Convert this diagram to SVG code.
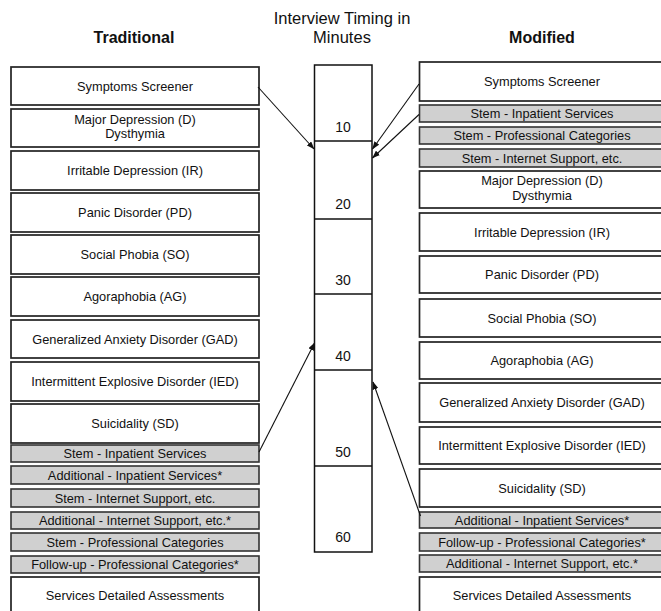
<svg xmlns="http://www.w3.org/2000/svg" width="661" height="611" viewBox="0 0 661 611">
<defs>
<style>
.b{fill:#fff;stroke:#222;stroke-width:1.7}
.g{fill:#d0d0d0;stroke:#333;stroke-width:1.6}
.tl{fill:#fff;stroke:#111;stroke-width:1.5}
.dv{stroke:#111;stroke-width:1.5}
text{font-family:"Liberation Sans",Arial,sans-serif;fill:#111}
.t{font-size:12.8px;text-anchor:middle}
.n{font-size:14px;text-anchor:middle}
.h{font-size:16px;font-weight:bold;text-anchor:middle}
.hm{font-size:16.5px;text-anchor:middle}
.c{stroke:#111;stroke-width:1.1;fill:none;marker-end:url(#ah)}
</style>
<marker id="ah" markerUnits="userSpaceOnUse" markerWidth="8" markerHeight="6" refX="7.5" refY="3" orient="auto">
<path d="M0,0 L8,3 L0,6 Z" fill="#111"/>
</marker>
</defs>
<g id="titles">
<text class="h" x="134" y="43">Traditional</text>
<text class="hm" x="342" y="24">Interview Timing in</text>
<text class="hm" x="342" y="43">Minutes</text>
<text class="h" x="542" y="43">Modified</text>
</g>
<g id="timeline">
<rect class="tl" x="314.5" y="65" width="57.5" height="487"/>
<line class="dv" x1="314.5" y1="141" x2="372" y2="141"/>
<line class="dv" x1="314.5" y1="219" x2="372" y2="219"/>
<line class="dv" x1="314.5" y1="294" x2="372" y2="294"/>
<line class="dv" x1="314.5" y1="370" x2="372" y2="370"/>
<line class="dv" x1="314.5" y1="466" x2="372" y2="466"/>
<text class="n" x="343" y="131.5">10</text>
<text class="n" x="343" y="209">20</text>
<text class="n" x="343" y="284.5">30</text>
<text class="n" x="343" y="360.5">40</text>
<text class="n" x="343" y="456.5">50</text>
<text class="n" x="343" y="542">60</text>
</g>
<g id="L1"><rect class="b" x="11" y="67" width="248" height="38"/><text class="t" x="135" y="90.5">Symptoms Screener</text></g>
<g id="L2"><rect class="b" x="11" y="109" width="248" height="38"/><text class="t" x="135" y="123.5">Major Depression (D)</text><text class="t" x="135" y="138">Dysthymia</text></g>
<g id="L3"><rect class="b" x="11" y="151" width="248" height="39"/><text class="t" x="135" y="175">Irritable Depression (IR)</text></g>
<g id="L4"><rect class="b" x="11" y="193" width="248" height="39"/><text class="t" x="135" y="217">Panic Disorder (PD)</text></g>
<g id="L5"><rect class="b" x="11" y="235" width="248" height="39"/><text class="t" x="135" y="259">Social Phobia (SO)</text></g>
<g id="L6"><rect class="b" x="11" y="277" width="248" height="39"/><text class="t" x="135" y="301">Agoraphobia (AG)</text></g>
<g id="L7"><rect class="b" x="11" y="320" width="248" height="38"/><text class="t" x="135" y="343.5">Generalized Anxiety Disorder (GAD)</text></g>
<g id="L8"><rect class="b" x="11" y="362" width="248" height="39"/><text class="t" x="135" y="386">Intermittent Explosive Disorder (IED)</text></g>
<g id="L9"><rect class="b" x="11" y="404" width="248" height="39"/><text class="t" x="135" y="428">Suicidality (SD)</text></g>
<g id="L10"><rect class="g" x="11" y="445" width="248" height="17"/><text class="t" x="135" y="458">Stem - Inpatient Services</text></g>
<g id="L11"><rect class="g" x="11" y="466" width="248" height="18"/><text class="t" x="135" y="479.5">Additional - Inpatient Services*</text></g>
<g id="L12"><rect class="g" x="11" y="489" width="248" height="18"/><text class="t" x="135" y="502.5">Stem - Internet Support, etc.</text></g>
<g id="L13"><rect class="g" x="11" y="512" width="248" height="17"/><text class="t" x="135" y="525">Additional - Internet Support, etc.*</text></g>
<g id="L14"><rect class="g" x="11" y="533" width="248" height="18"/><text class="t" x="135" y="546.5">Stem - Professional Categories</text></g>
<g id="L15"><rect class="g" x="11" y="556" width="248" height="17"/><text class="t" x="135" y="569">Follow-up - Professional Categories*</text></g>
<g id="L16"><rect class="b" x="11" y="577" width="248" height="40"/><text class="t" x="135" y="600">Services Detailed Assessments</text></g>
<g id="R1"><rect class="b" x="419.5" y="62" width="246" height="39"/><text class="t" x="542" y="86">Symptoms Screener</text></g>
<g id="R2"><rect class="g" x="419.5" y="105" width="246" height="17"/><text class="t" x="542" y="118">Stem - Inpatient Services</text></g>
<g id="R3"><rect class="g" x="419.5" y="127" width="246" height="17"/><text class="t" x="542" y="140">Stem - Professional Categories</text></g>
<g id="R4"><rect class="g" x="419.5" y="149" width="246" height="18"/><text class="t" x="542" y="162.5">Stem - Internet Support, etc.</text></g>
<g id="R5"><rect class="b" x="419.5" y="171" width="246" height="37"/><text class="t" x="542" y="185">Major Depression (D)</text><text class="t" x="542" y="199.5">Dysthymia</text></g>
<g id="R6"><rect class="b" x="419.5" y="213" width="246" height="38"/><text class="t" x="542" y="236.5">Irritable Depression (IR)</text></g>
<g id="R7"><rect class="b" x="419.5" y="256" width="246" height="37"/><text class="t" x="542" y="279">Panic Disorder (PD)</text></g>
<g id="R8"><rect class="b" x="419.5" y="299" width="246" height="38"/><text class="t" x="542" y="322.5">Social Phobia (SO)</text></g>
<g id="R9"><rect class="b" x="419.5" y="342" width="246" height="37"/><text class="t" x="542" y="365">Agoraphobia (AG)</text></g>
<g id="R10"><rect class="b" x="419.5" y="383" width="246" height="39"/><text class="t" x="542" y="407">Generalized Anxiety Disorder (GAD)</text></g>
<g id="R11"><rect class="b" x="419.5" y="427" width="246" height="37"/><text class="t" x="542" y="450">Intermittent Explosive Disorder (IED)</text></g>
<g id="R12"><rect class="b" x="419.5" y="469" width="246" height="38"/><text class="t" x="542" y="492.5">Suicidality (SD)</text></g>
<g id="R13"><rect class="g" x="419.5" y="512" width="246" height="16"/><text class="t" x="542" y="524.5">Additional - Inpatient Services*</text></g>
<g id="R14"><rect class="g" x="419.5" y="533" width="246" height="18"/><text class="t" x="542" y="546.5">Follow-up - Professional Categories*</text></g>
<g id="R15"><rect class="g" x="419.5" y="555" width="246" height="17"/><text class="t" x="542" y="568">Additional - Internet Support, etc.*</text></g>
<g id="R16"><rect class="b" x="419.5" y="577" width="246" height="40"/><text class="t" x="542" y="600">Services Detailed Assessments</text></g>
<g id="connectors">
<line class="c" x1="258" y1="87" x2="314" y2="149"/>
<line class="c" x1="259" y1="452" x2="314.5" y2="343"/>
<line class="c" x1="419" y1="84" x2="372.5" y2="149"/>
<line class="c" x1="419" y1="114.5" x2="372.5" y2="158"/>
<line class="c" x1="420.5" y1="516" x2="373" y2="382"/>
</g>
</svg>
